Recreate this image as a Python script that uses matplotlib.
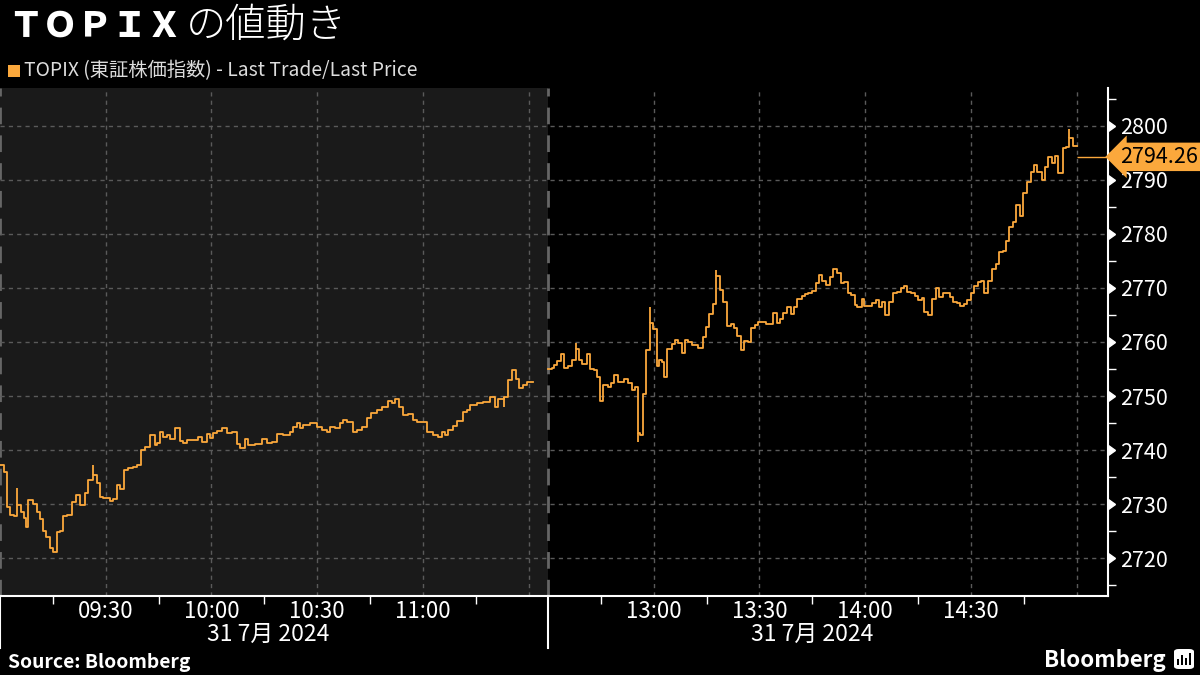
import numpy as np
import matplotlib
matplotlib.use("Agg")
import matplotlib.pyplot as plt
import matplotlib.transforms as mtransforms
from matplotlib.patches import FancyBboxPatch

plt.rcParams['font.family'] = ['Noto Sans CJK JP', 'DejaVu Sans']

# ---- data (minutes since session open, index level) ----
am_minutes = [0.0, 1.1, 2.0, 2.8, 4.0, 4.8, 6.0, 6.8, 7.4, 7.9, 9.4, 10.5, 11.4, 12.2, 13.1,
              14.2, 15.0, 16.2, 17.0, 17.9, 19.0, 20.4, 21.6, 22.7, 24.1, 25.0, 26.4, 27.5,
              28.4, 29.2, 31.2, 32.1, 33.2, 34.1, 35.2, 36.3, 37.8, 38.9, 40.0, 41.2, 42.6,
              44.0, 44.6, 45.4, 46.3, 47.4, 48.3, 49.7, 51.1, 51.9, 53.1, 56.2, 57.3, 58.8,
              59.6, 60.5, 61.6, 63.0, 64.4, 65.9, 67.3, 68.1, 69.5, 70.4, 72.4, 74.4, 75.8,
              77.2, 78.6, 80.3, 82.3, 83.2, 84.3, 85.2, 86.0, 88.0, 90.0, 91.4, 92.8, 93.7,
              95.1, 96.5, 97.4, 98.5, 100.2, 101.3, 102.8, 104.2, 105.3, 107.0, 108.4, 110.1,
              111.3, 112.1, 113.3, 114.4, 115.8, 117.2, 118.4, 121.2, 122.9, 124.3, 125.5,
              126.3, 127.2, 128.6, 129.7, 131.4, 132.6, 133.4, 135.4, 137.1, 139.1, 140.5,
              141.4, 143.1, 144.2, 145.3, 146.5, 147.3, 148.5, 149.6, 151.3]
am_values = [2737.2, 2736.0, 2729.5, 2728.0, 2727.8, 2729.8, 2728.5, 2727.5, 2725.7, 2730.7,
             2730.0, 2728.5, 2727.2, 2725.0, 2723.9, 2721.9, 2721.1, 2724.8, 2725.0, 2727.8,
             2728.0, 2730.4, 2731.7, 2729.8, 2732.0, 2734.4, 2735.4, 2733.9, 2731.3, 2731.1,
             2730.6, 2731.0, 2733.5, 2732.8, 2736.3, 2736.7, 2736.9, 2737.2, 2740.0, 2740.6,
             2742.8, 2741.0, 2741.3, 2743.3, 2742.4, 2742.8, 2742.0, 2744.1, 2741.7, 2741.3,
             2741.9, 2742.4, 2741.5, 2743.0, 2742.2, 2743.1, 2743.5, 2744.1, 2743.1, 2743.3,
             2741.1, 2740.4, 2742.0, 2741.0, 2741.1, 2742.0, 2741.3, 2741.5, 2743.0, 2742.8,
             2743.3, 2744.3, 2745.0, 2744.1, 2744.6, 2745.0, 2744.3, 2743.7, 2743.3, 2744.3,
             2744.1, 2745.0, 2745.6, 2745.2, 2743.3, 2743.7, 2744.3, 2745.9, 2746.9, 2747.4,
             2748.0, 2749.1, 2748.7, 2749.4, 2748.0, 2746.5, 2746.7, 2745.6, 2745.2, 2743.3,
             2742.8, 2742.4, 2743.3, 2742.8, 2743.7, 2744.4, 2745.4, 2747.0, 2747.4, 2748.3,
             2748.7, 2748.9, 2749.8, 2748.0, 2749.4, 2749.8, 2753.0, 2754.8, 2753.1, 2751.5,
             2752.0, 2752.6, 2752.6]

pm_minutes = [0.0, 1.1, 1.7, 2.6, 3.7, 4.5, 5.7, 6.8, 7.9, 8.8, 9.7, 11.1, 11.9, 13.1, 13.9,
              14.8, 15.6, 17.0, 17.9, 18.7, 19.9, 21.6, 22.7, 23.8, 24.7, 25.5, 26.1, 27.0,
              27.8, 29.0, 29.8, 30.9, 31.5, 32.4, 32.9, 33.8, 35.2, 36.0, 36.9, 38.0, 38.9,
              39.7, 40.9, 42.6, 44.0, 44.8, 45.7, 46.8, 47.7, 48.8, 49.7, 50.8, 51.9, 52.8,
              53.6, 54.8, 55.6, 56.8, 57.6, 58.8, 59.6, 61.9, 63.9, 65.0, 65.9, 66.7, 67.8,
              69.0, 69.8, 70.7, 72.1, 73.0, 73.8, 74.9, 76.1, 76.9, 77.8, 78.9, 80.1, 80.9,
              82.0, 83.2, 84.0, 85.2, 86.0, 87.1, 87.7, 89.1, 89.7, 92.0, 93.1, 94.0, 94.8,
              95.7, 96.8, 97.9, 99.1, 100.2, 101.0, 101.9, 103.0, 104.2, 105.0, 106.2, 106.7,
              107.9, 109.0, 110.1, 111.0, 112.1, 114.1, 115.0, 116.1, 117.0, 118.1, 118.9,
              120.1, 120.9, 122.0, 123.0, 123.8, 124.9, 126.0, 127.2, 128.0, 129.2, 130.0,
              130.9, 132.0, 132.8, 134.0, 134.8, 136.0, 137.1, 137.9, 138.8, 140.2, 141.1,
              141.9, 143.1, 143.9, 144.8, 146.2, 147.0, 147.9, 149.0, 150.0]
pm_values = [2755.0, 2755.2, 2755.7, 2756.5, 2757.8, 2755.2, 2755.6, 2756.7, 2758.7, 2756.7,
             2755.9, 2757.8, 2755.0, 2754.8, 2753.5, 2749.1, 2752.0, 2751.7, 2752.4, 2753.9,
             2752.6, 2753.1, 2752.4, 2751.1, 2751.7, 2743.1, 2742.8, 2750.4, 2758.5, 2763.5,
             2762.4, 2755.6, 2756.7, 2756.3, 2753.5, 2758.7, 2759.6, 2760.4, 2759.8, 2758.0,
             2760.4, 2760.0, 2759.4, 2758.9, 2760.9, 2762.8, 2765.2, 2767.0, 2772.2, 2769.6,
             2767.4, 2763.0, 2763.3, 2762.6, 2761.1, 2758.5, 2760.2, 2760.0, 2762.6, 2763.1,
             2763.7, 2763.3, 2765.4, 2763.5, 2764.3, 2765.4, 2766.5, 2765.2, 2766.5, 2768.0,
             2768.5, 2768.9, 2769.1, 2769.4, 2770.9, 2772.4, 2771.3, 2770.6, 2772.0, 2773.5,
             2772.8, 2770.9, 2771.1, 2769.1, 2768.7, 2766.9, 2766.5, 2768.0, 2766.7, 2767.2,
             2767.8, 2766.5, 2767.4, 2765.0, 2767.4, 2769.1, 2769.3, 2770.0, 2770.4, 2769.3,
             2769.1, 2768.5, 2767.8, 2768.1, 2765.6, 2765.0, 2768.0, 2770.0, 2768.3, 2769.1,
             2768.3, 2767.4, 2767.2, 2766.7, 2767.0, 2767.8, 2769.1, 2770.4, 2771.1, 2771.3,
             2769.1, 2771.3, 2773.5, 2774.4, 2776.7, 2776.9, 2778.7, 2781.3, 2782.2, 2785.4,
             2783.3, 2787.6, 2789.6, 2791.5, 2792.8, 2791.5, 2790.0, 2792.4, 2794.3, 2793.1,
             2794.4, 2791.3, 2795.9, 2796.1, 2797.8, 2796.3, 2796.3]

# intraminute extremes that poke out of the step line: (session, minute, low, high)
spikes = [("am", 4.8, 2729.8, 2733.0), ("am", 26.4, 2735.4, 2737.2),
          ("am", 143.1, 2748.0, 2749.8), ("pm", 7.9, 2758.7, 2759.8),
          ("pm", 25.5, 2741.5, 2743.1), ("pm", 29.0, 2763.5, 2766.5),
          ("pm", 47.7, 2772.2, 2773.4), ("pm", 147.9, 2797.8, 2799.4)]

last_price = 2794.26
am_ticks = ["09:30", "10:00", "10:30", "11:00"]
pm_ticks = ["13:00", "13:30", "14:00", "14:30"]
date_label = "31 7月 2024"

# ---- layout: compressed time axis, lunch break squeezed out ----
px_per_min = 105.7 / 30
pm_offset = 548 / px_per_min          # 12:30 sits right after the morning
x_end = 1108 / px_per_min

orange = '#fba83c'
bg = '#000000'
am_bg = '#1a1a1a'
grid_c = '#5a5a5a'

fig = plt.figure(figsize=(12, 6.75), dpi=100, facecolor=bg)
ax = fig.add_axes([0, 1 - 596 / 675, 1108 / 1200, 508 / 675])
ax.set_facecolor(bg)
ax.set_xlim(0, x_end)
ax.set_ylim(2713.0, 2807.0)

ax.axvspan(0, pm_offset, color=am_bg, zorder=0, lw=0)

am_x = np.array(am_minutes)
pm_x = np.array(pm_minutes) + pm_offset
ax.step(am_x, am_values, where='post', color=orange, lw=1.3, zorder=3)
ax.step(pm_x, pm_values, where='post', color=orange, lw=1.3, zorder=3)
for sess, m, lo, hi in spikes:
  xx = m + (pm_offset if sess == "pm" else 0)
  ax.vlines(xx, lo, hi, color=orange, lw=1.3, zorder=3)
ax.hlines(last_price, pm_x[-1], x_end, color=orange, lw=1, zorder=3)

# x ticks
major = [30, 60, 90, 120, 150] + [pm_offset + m for m in (30, 60, 90, 120, 150)]
minor = [15, 45, 75, 105, 135] + [pm_offset + m for m in (15, 45, 75, 105, 135)]
ax.set_xticks(major)
ax.set_xticklabels(am_ticks + [""] + pm_ticks + [""])
ax.set_xticks(minor, minor=True)
ax.tick_params(axis='x', which='major', length=0, pad=3, labelsize=16, colors='white')
ax.tick_params(axis='x', which='minor', length=6, width=1, color='white', direction='out')

# y ticks on the right
yt = np.arange(2720, 2801, 10)
ax.yaxis.tick_right()
ax.set_yticks(yt)
ax.set_yticks(np.arange(2715, 2806, 10), minor=True)
ax.tick_params(axis='y', which='major', length=0, pad=9, labelsize=15.5, colors='white')
ax.tick_params(axis='y', which='minor', length=6, width=1, color='white', direction='out')
ax.plot(np.full(len(yt), x_end), yt, ls='none', marker=9, ms=7, color='white',
        clip_on=False, zorder=5)

ax.grid(True, which='major', color=grid_c, ls=(0, (3, 3)), lw=1)
for xv in (0, pm_offset):
  ax.axvline(xv, color='#666666', lw=2, ls=(0, (6, 4)), zorder=1)

for s in ['top', 'left']:
  ax.spines[s].set_visible(False)
ax.spines['bottom'].set_color('white')
ax.spines['bottom'].set_linewidth(1.5)
ax.spines['right'].set_color('white')
ax.spines['right'].set_linewidth(1.5)

# session separators under the axis
for xv in (0, pm_offset):
  ax.axvline(xv, ymin=-0.102, ymax=0, color='white', lw=1.5, clip_on=False)
trans = mtransforms.blended_transform_factory(ax.transData, fig.transFigure)
for xc in (76, pm_offset + 75):
  ax.text(xc, 1 - 634 / 675, date_label, transform=trans, ha='center', va='center',
          color='white', fontsize=16.5)

# last price tag
ytrans = mtransforms.blended_transform_factory(ax.transAxes, ax.transData)
ax.annotate("%.2f" % last_price, xy=(1, last_price), xycoords=ytrans,
            xytext=(9, 0), textcoords='offset points', va='center', ha='left',
            fontsize=15.5, color='black',
            bbox=dict(boxstyle='larrow,pad=0.15', fc=orange, ec='none'),
            annotation_clip=False, zorder=6)

# titles and legend
fig.text(8 / 1200, 1 - 26 / 675, "ＴＯＰＩＸ", color='white', fontsize=25,
         fontweight='heavy', va='center', ha='left')
fig.text(186 / 1200, 1 - 26 / 675, "の値動き", color='white', fontsize=29,
         fontweight='light', va='center', ha='left')
fig.patches.append(FancyBboxPatch((8 / 1200, 1 - 77 / 675), 12 / 1200, 12 / 675,
                                  boxstyle='square,pad=0', fc=orange, ec='none',
                                  transform=fig.transFigure, figure=fig))
fig.text(24 / 1200, 1 - 71 / 675, "TOPIX (東証株価指数) - Last Trade/Last Price",
         color='#dddddd', fontsize=13.9, va='center', ha='left')

fig.text(8 / 1200, 1 - 662 / 675, "Source: Bloomberg", color='white', fontsize=13.9,
         fontweight='bold', va='center', ha='left')
fig.text(1166 / 1200, 1 - 660 / 675, "Bloomberg", color='white', fontsize=16,
         fontweight='bold', va='center', ha='right')
fig.patches.append(FancyBboxPatch((1174 / 1200, 1 - 669 / 675), 20 / 1200, 20 / 675,
                                  boxstyle='round,pad=0,rounding_size=0.004', fc='white',
                                  ec='none', transform=fig.transFigure, figure=fig))
for i, h in enumerate([6, 10, 7, 12]):
  fig.patches.append(FancyBboxPatch(((1177 + i * 4) / 1200, 1 - 665 / 675), 2 / 1200,
                                    h / 675, boxstyle='square,pad=0', fc='black',
                                    ec='none', transform=fig.transFigure, figure=fig))

fig.savefig("out.png", dpi=100, facecolor=bg)
